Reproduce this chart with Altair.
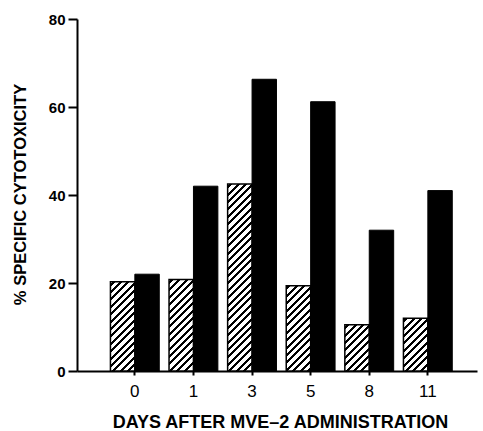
import altair as alt
import pandas as pd

# ---- data ----
days = ["0", "1", "3", "5", "8", "11"]
hatched = [20.3, 20.8, 42.5, 19.4, 10.5, 12.0]
solid = [22.0, 42.0, 66.3, 61.2, 32.0, 41.0]
y_ticks = [0, 20, 40, 60, 80]

# ---- layout / style ----
W, H = 400, 352
YMAX = 80
PAD_OUTER = 0.413
ALIGN = 0.59
GROUP_PAD = 0.2
FONT = "Liberation Sans"

rows = []
for d, hv, sv in zip(days, hatched, solid):
    rows.append({"day": d, "series": "hatched", "value": hv})
    rows.append({"day": d, "series": "solid", "value": sv})
df = pd.DataFrame(rows)

step = W / (len(days) + 2 * PAD_OUTER)
bar_w = step / (2 + 2 * GROUP_PAD)


def hatch(value):
    """Diagonal hatch fill built as a hard-stop linear gradient."""
    h = value / YMAX * H
    w = bar_w
    tot = w + h
    k = tot / (w * w + h * h)
    period, lw = 7.4, 3.0
    stops = [alt.GradientStop(color="white", offset=0)]
    pos = 2.0
    while pos + lw < tot:
        a, b = pos / tot, (pos + lw) / tot
        stops += [
            alt.GradientStop(color="white", offset=a),
            alt.GradientStop(color="black", offset=a),
            alt.GradientStop(color="black", offset=b),
            alt.GradientStop(color="white", offset=b),
        ]
        pos += period
    stops.append(alt.GradientStop(color="white", offset=1))
    return alt.LinearGradient(gradient="linear", stops=stops,
                              x1=0, y1=0, x2=w * k, y2=h * k)


x_axis = alt.Axis(
    title="DAYS AFTER MVE–2 ADMINISTRATION", labelAngle=0,
    domainColor="black", domainWidth=2, tickColor="black", tickWidth=2, tickSize=4,
    labelFont=FONT, labelFontSize=17, labelColor="black", labelPadding=8,
    titleFont=FONT, titleFontSize=18, titleFontWeight="bold", titleColor="black",
    titleX=203, titleY=56, titleAlign="center", titleBaseline="alphabetic",
    grid=False,
)
y_axis = alt.Axis(
    values=y_ticks, title="% SPECIFIC CYTOTOXICITY",
    domainColor="black", domainWidth=2, tickColor="black", tickWidth=2, tickSize=9,
    labelFont=FONT, labelFontSize=15, labelFontWeight="bold", labelColor="black",
    labelPadding=3,
    titleFont=FONT, titleFontSize=16.5, titleFontWeight="bold", titleColor="black",
    titleX=-57, titleY=175, titleAngle=270, titleAlign="center", titleBaseline="middle",
    grid=False,
)

base = alt.Chart(df).encode(
    x=alt.X("day:N", sort=days,
            scale=alt.Scale(domain=days, paddingInner=0, paddingOuter=PAD_OUTER, align=ALIGN),
            axis=x_axis),
    xOffset=alt.XOffset("series:N",
                        scale=alt.Scale(domain=["hatched", "solid"], paddingInner=0,
                                        paddingOuter=GROUP_PAD)),
    y=alt.Y("value:Q", scale=alt.Scale(domain=[0, YMAX], nice=False), axis=y_axis),
)

solid_layer = base.transform_filter(alt.datum.series == "solid").mark_bar(
    fill="black", stroke="black", strokeWidth=1
)
hatch_layers = [
    base.transform_filter((alt.datum.series == "hatched") & (alt.datum.day == d)).mark_bar(
        fill=hatch(v), stroke="black", strokeWidth=1.5
    )
    for d, v in zip(days, hatched)
]

chart = alt.layer(*hatch_layers, solid_layer).properties(
    width=W, height=H,
    padding={"left": 77, "top": 19, "right": 6, "bottom": 60},
    autosize=alt.AutoSizeParams(type="none"),
    background="white",
).configure_view(stroke=None)

chart.save("out.html", embed_options={"renderer": "svg", "actions": False})
